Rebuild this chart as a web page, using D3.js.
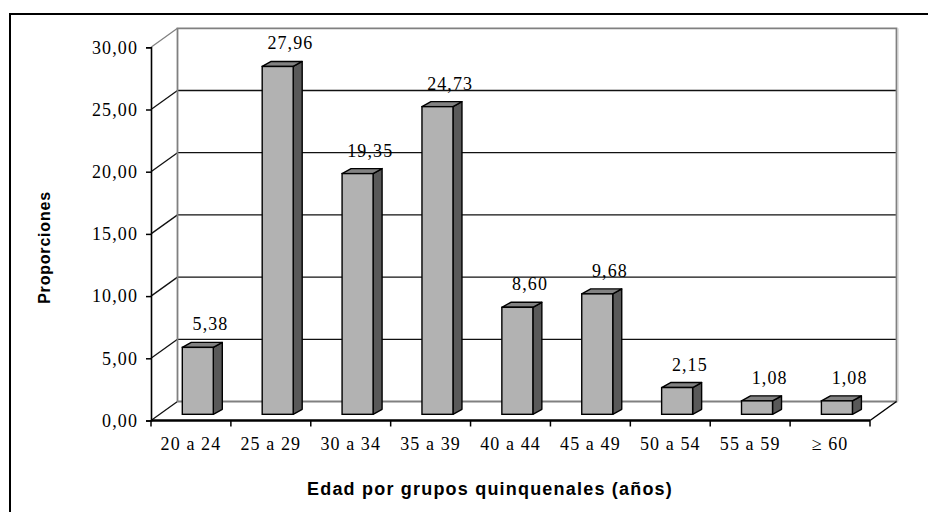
<!DOCTYPE html>
<html>
<head>
<meta charset="utf-8">
<script src="https://cdn.jsdelivr.net/npm/d3@7"></script>
<style>
  body { margin: 0; background: #fff; }
  svg { display: block; }
  .serif { font-family: "Liberation Serif", "Times New Roman", serif; font-size: 18px; letter-spacing: 1.1px; fill: #000; }
  .title { font-family: "Liberation Sans", Arial, sans-serif; font-weight: bold; fill: #000; }
</style>
</head>
<body>
<svg id="chart" width="928" height="512"></svg>
<script>
// Proporciones por grupo quinquenal de edad
const categories = ["20 a 24", "25 a 29", "30 a 34", "35 a 39", "40 a 44", "45 a 49", "50 a 54", "55 a 59", "≥ 60"];
const proportions = [5.38, 27.96, 19.35, 24.73, 8.60, 9.68, 2.15, 1.08, 1.08];
const yTicks = [0, 5, 10, 15, 20, 25, 30];

const fmt = v => d3.format(".2f")(v).replace(".", ",");

const svg = d3.select("#chart");

// front plane scales
const x = d3.scaleBand().domain(categories).range([151, 870]);
const y = d3.scaleLinear().domain([0, 30]).range([420.5, 47.3]);

// oblique depth of the walls, and of the bars themselves
const depth = { dx: 26.5, dy: -19 };
const barInset = { dx: 8.6, dy: -6.2 };
const barDepth = { dx: 9, dy: -5 };
const barWidth = 31;
const barLeft = 22.7;

const [x0, x1] = x.range();
const bx0 = x0 + depth.dx, bx1 = x1 + depth.dx;
const yBack = v => y(v) + depth.dy;

// outer frame
svg.append("rect")
  .attr("x", 10).attr("y", 14).attr("width", 940).attr("height", 520)
  .attr("fill", "none").attr("stroke", "#000").attr("stroke-width", 2);

const walls = svg.append("g");

// back wall
walls.append("rect")
  .attr("x", bx0).attr("y", yBack(30))
  .attr("width", bx1 - bx0).attr("height", yBack(0) - yBack(30))
  .attr("fill", "#fff");

// gridlines on the back wall
walls.selectAll(".grid")
  .data(yTicks.filter(t => t > 0 && t < 30))
  .join("line")
  .attr("x1", bx0).attr("x2", bx1)
  .attr("y1", d => yBack(d)).attr("y2", d => yBack(d))
  .attr("stroke", "#111").attr("stroke-width", 1.3);

// gridline continuation across the left wall
walls.selectAll(".side")
  .data(yTicks)
  .join("line")
  .attr("x1", x0).attr("y1", d => y(d))
  .attr("x2", bx0).attr("y2", d => yBack(d))
  .attr("stroke", d => d === 30 ? "#808080" : "#111")
  .attr("stroke-width", 1.3);

// back wall edges
walls.append("path")
  .attr("d", `M${bx0},${yBack(0)}V${yBack(30)}H${bx1}V${yBack(0)}H${bx0}`)
  .attr("fill", "none").attr("stroke", "#808080").attr("stroke-width", 1.8);
walls.append("line")
  .attr("x1", bx1 + 1.5).attr("x2", bx1 + 1.5)
  .attr("y1", yBack(30)).attr("y2", yBack(0))
  .attr("stroke", "#c8c8c8").attr("stroke-width", 1);

// floor: right diagonal and front edge
walls.append("line")
  .attr("x1", x1).attr("y1", y(0)).attr("x2", bx1).attr("y2", yBack(0))
  .attr("stroke", "#000").attr("stroke-width", 1.5);

// bars
const barBottom = y(0) + barInset.dy;
const yBar = v => y(v) + barInset.dy;
const bars = svg.append("g").selectAll("g")
  .data(categories.map((c, i) => ({ c, v: proportions[i] })))
  .join("g");

bars.each(function (d) {
  const g = d3.select(this);
  const fx = x(d.c) + barLeft + barInset.dx;
  const top = yBar(d.v);
  const w = barWidth, ddx = barDepth.dx, ddy = barDepth.dy;
  g.append("path")
    .attr("d", `M${fx + w},${top}L${fx + w + ddx},${top + ddy}L${fx + w + ddx},${barBottom + ddy}L${fx + w},${barBottom}Z`)
    .attr("fill", "#595959").attr("stroke", "#000").attr("stroke-width", 1.4).attr("stroke-linejoin", "round");
  g.append("path")
    .attr("d", `M${fx},${top}L${fx + ddx},${top + ddy}L${fx + w + ddx},${top + ddy}L${fx + w},${top}Z`)
    .attr("fill", "#828282").attr("stroke", "#000").attr("stroke-width", 1.4).attr("stroke-linejoin", "round");
  g.append("rect")
    .attr("x", fx).attr("y", top).attr("width", w).attr("height", barBottom - top)
    .attr("fill", "#b2b2b2").attr("stroke", "#000").attr("stroke-width", 1.4);
});

// value labels
bars.append("text")
  .attr("class", "serif")
  .attr("text-anchor", "middle")
  .attr("x", d => x(d.c) + 59.5)
  .attr("y", d => yBar(d.v) - 17)
  .text(d => fmt(d.v));

// y axis
const yAxis = svg.append("g")
  .attr("transform", `translate(${x0},0)`)
  .call(d3.axisLeft(y).tickValues(yTicks).tickSize(5).tickPadding(8).tickFormat(fmt));
yAxis.select(".domain").attr("stroke", "#000").attr("stroke-width", 1.6);
yAxis.selectAll(".tick line").attr("stroke", "#000").attr("stroke-width", 1.5);
yAxis.selectAll(".tick text").attr("class", "serif").attr("font-family", null).attr("font-size", null);

// x axis: labels centred in each band, ticks at band boundaries
const xAxis = svg.append("g")
  .attr("transform", `translate(0,${y(0)})`)
  .call(d3.axisBottom(x).tickSize(0).tickPadding(17));
xAxis.select(".domain").remove();
xAxis.selectAll(".tick text").attr("class", "serif").attr("font-family", null).attr("font-size", null);
xAxis.selectAll(".edge")
  .data([...categories.map(c => x(c)), x1])
  .join("line")
  .attr("x1", d => d).attr("x2", d => d)
  .attr("y1", 0).attr("y2", 6)
  .attr("stroke", "#000").attr("stroke-width", 1.5);
xAxis.append("line")
  .attr("x1", x0).attr("x2", x1).attr("y1", 0).attr("y2", 0)
  .attr("stroke", "#000").attr("stroke-width", 2.4);

// axis titles
svg.append("text")
  .attr("class", "title")
  .attr("transform", "translate(49.5,247.5) rotate(-90)")
  .attr("text-anchor", "middle")
  .style("font-size", "16px").style("letter-spacing", "0.8px")
  .text("Proporciones");

svg.append("text")
  .attr("class", "title")
  .attr("x", 490).attr("y", 495)
  .attr("text-anchor", "middle")
  .style("font-size", "18px").style("letter-spacing", "1.2px")
  .text("Edad por grupos quinquenales (años)");
</script>
</body>
</html>
